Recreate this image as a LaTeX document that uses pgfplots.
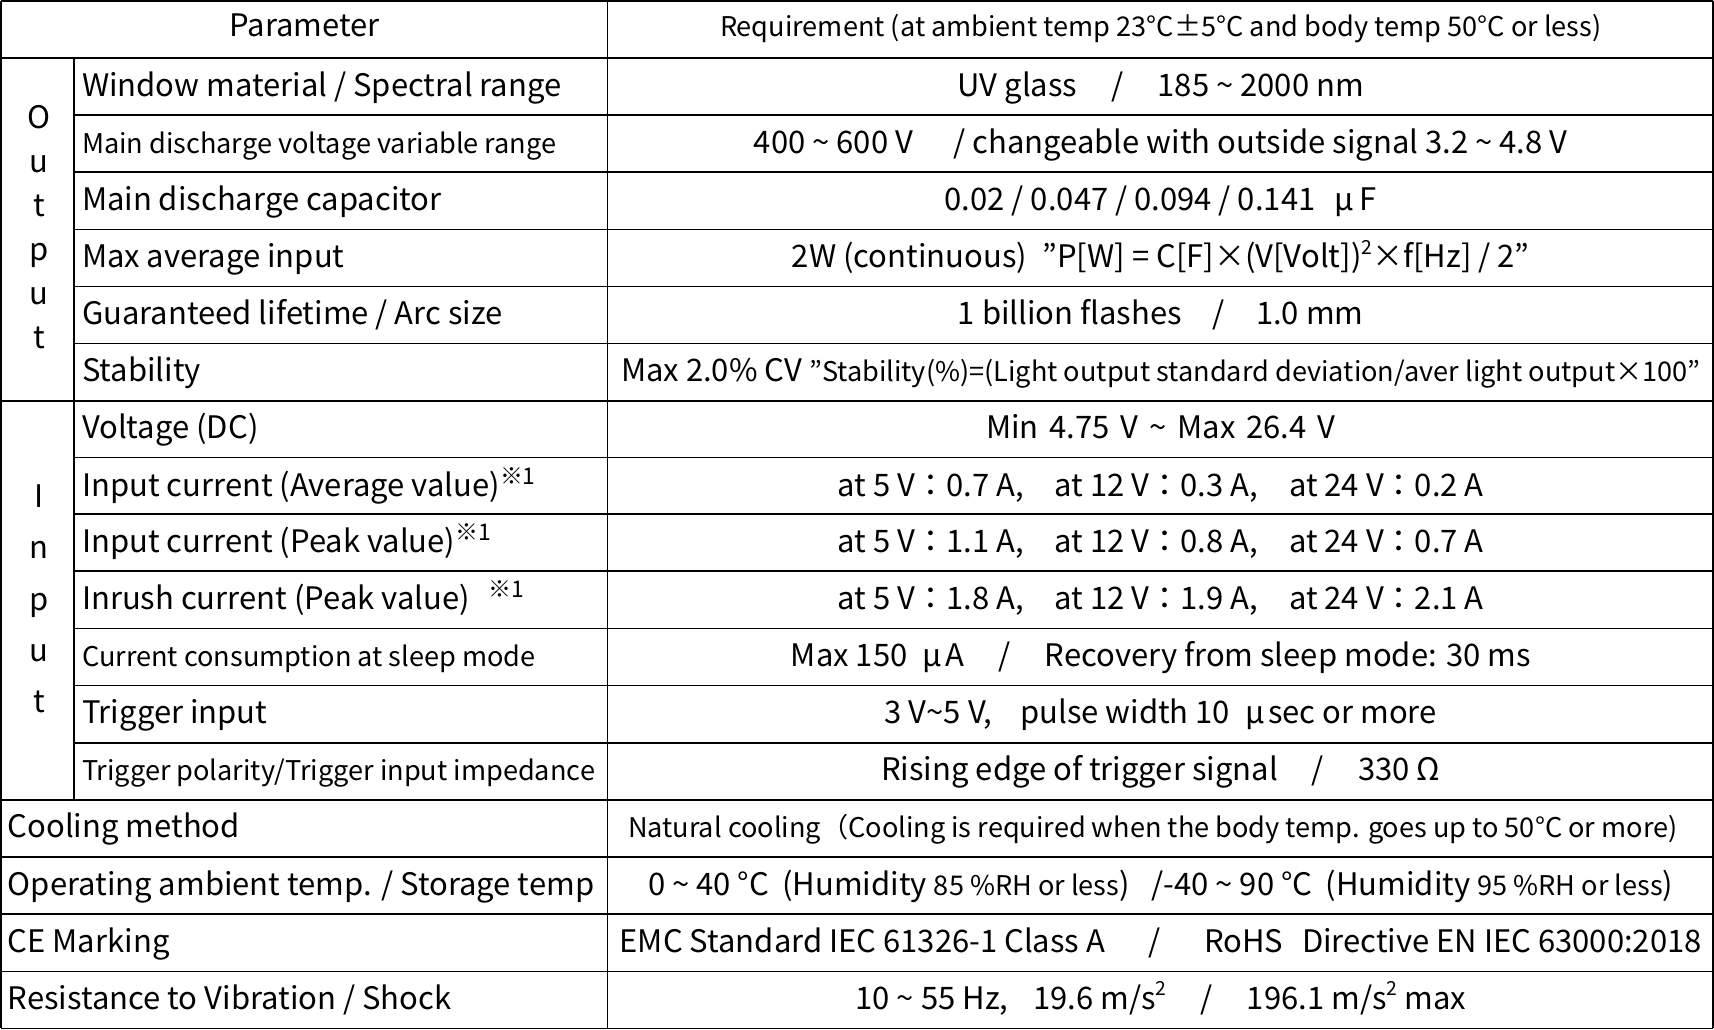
\documentclass[border=0pt]{standalone}
\usepackage{fontspec}
\setmainfont{Noto Sans CJK JP}
\usepackage{pgfplots}
\pgfplotsset{compat=1.18}
\newcommand{\fL}{\fontsize{8.8pt}{10pt}\selectfont}
\newcommand{\fS}{\fontsize{7.7pt}{9pt}\selectfont}
\newcommand{\tl}{\textasciitilde}
\newcommand{\nt}{\raisebox{0.7ex}{\fontsize{6.5pt}{7pt}\selectfont ※1}}
\newcommand{\sq}{\raisebox{0.8ex}{\fontsize{5.5pt}{6pt}\selectfont 2}}

\begin{document}
\begin{tikzpicture}[every node/.append style={inner sep=0pt, outer sep=0pt}]
\begin{axis}[
  width=171.4mm, height=103.1mm, scale only axis,
  xmin=0, xmax=1714, ymin=0, ymax=1031, y dir=reverse,
  hide axis, clip=false, unbounded coords=jump,
]
% table rules
\addplot[black, line width=0.45pt, mark=none] coordinates {
  (3,1)(1711,1) (nan,nan)
  (3,58)(1711,58) (nan,nan)
  (76,115)(1711,115) (nan,nan)
  (76,172)(1711,172) (nan,nan)
  (76,229)(1711,229) (nan,nan)
  (76,286)(1711,286) (nan,nan)
  (76,343)(1711,343) (nan,nan)
  (3,400)(1711,400) (nan,nan)
  (76,456.5)(1711,456.5) (nan,nan)
  (76,513)(1711,513) (nan,nan)
  (76,570)(1711,570) (nan,nan)
  (76,627)(1711,627) (nan,nan)
  (76,684)(1711,684) (nan,nan)
  (76,741)(1711,741) (nan,nan)
  (3,798)(1711,798) (nan,nan)
  (3,855)(1711,855) (nan,nan)
  (3,912)(1711,912) (nan,nan)
  (3,969)(1711,969) (nan,nan)
  (3,1026)(1711,1026) (nan,nan)
  (3,1)(3,1026) (nan,nan)
  (76,58)(76,798) (nan,nan)
  (608,1)(608,1026) (nan,nan)
  (1711,1)(1711,1026)
};

% header
\node[anchor=base] at (axis cs:306,37) {\fL Parameter};
\node[anchor=base] at (axis cs:1160,37) {\fS Requirement (at ambient temp 23°C±5°C and body temp 50°C or less)};

% group labels
\node[anchor=base] at (axis cs:41,128) {\fL O};
\node[anchor=base] at (axis cs:41,172) {\fL u};
\node[anchor=base] at (axis cs:41,216) {\fL t};
\node[anchor=base] at (axis cs:41,260) {\fL p};
\node[anchor=base] at (axis cs:41,304) {\fL u};
\node[anchor=base] at (axis cs:41,348) {\fL t};
\node[anchor=base] at (axis cs:41,506) {\fL I};
\node[anchor=base] at (axis cs:41,557.5) {\fL n};
\node[anchor=base] at (axis cs:41,609) {\fL p};
\node[anchor=base] at (axis cs:41,660) {\fL u};
\node[anchor=base] at (axis cs:41,710.5) {\fL t};

% output rows
\node[anchor=base west] at (axis cs:84,96) {\fL Window material / Spectral range};
\node[anchor=base west] at (axis cs:84,153) {\fS Main discharge voltage variable range};
\node[anchor=base west] at (axis cs:84,210) {\fL Main discharge capacitor};
\node[anchor=base west] at (axis cs:84,267) {\fL Max average input};
\node[anchor=base west] at (axis cs:84,324) {\fL Guaranteed lifetime / Arc size};
\node[anchor=base west] at (axis cs:84,381) {\fL Stability};

\node[anchor=base] at (axis cs:1160,96) {\fL UV glass\hspace{1.1em}/\hspace{1.1em}185 \tl{} 2000 nm};
\node[anchor=base] at (axis cs:1160,153) {\fL 400 \tl{} 600 V\hspace{1.3em}/ changeable with outside signal 3.2 \tl{} 4.8 V};
\node[anchor=base] at (axis cs:1160,210) {\fL 0.02 / 0.047 / 0.094 / 0.141\hspace{0.6em}μ\hspace{0.2em}F};
\node[anchor=base] at (axis cs:1160,267) {\fL 2W (continuous)\hspace{0.5em}”P[W] = C[F]×(V[Volt])\sq×f[Hz] / 2”};
\node[anchor=base] at (axis cs:1160,324) {\fL 1 billion flashes\hspace{1em}/\hspace{1em}1.0 mm};
\node[anchor=base] at (axis cs:1160,381) {\fL Max 2.0\% CV {\fS "Stability(\%)=(Light output standard deviation/aver light output×100"}};

% input rows
\node[anchor=base west] at (axis cs:84,438) {\fL Voltage (DC)};
\node[anchor=base west] at (axis cs:84,495) {\fL Input current (Average value)\nt};
\node[anchor=base west] at (axis cs:84,551) {\fL Input current (Peak value)\nt};
\node[anchor=base west] at (axis cs:84,608) {\fL Inrush current (Peak value)\hspace{0.6em}\nt};
\node[anchor=base west] at (axis cs:84,665) {\fS Current consumption at sleep mode};
\node[anchor=base west] at (axis cs:84,722) {\fL Trigger input};
\node[anchor=base west] at (axis cs:84,779) {\fS Trigger polarity/Trigger input impedance};

\node[anchor=base] at (axis cs:1160,438) {\fL Min\hspace{0.35em}4.75\hspace{0.35em}V\hspace{0.35em}\tl\hspace{0.35em}Max\hspace{0.35em}26.4\hspace{0.35em}V};
\node[anchor=base] at (axis cs:1160,495) {\fL at 5 V：0.7 A,\hspace{1em}at 12 V：0.3 A,\hspace{1em}at 24 V：0.2 A};
\node[anchor=base] at (axis cs:1160,551) {\fL at 5 V：1.1 A,\hspace{1em}at 12 V：0.8 A,\hspace{1em}at 24 V：0.7 A};
\node[anchor=base] at (axis cs:1160,608) {\fL at 5 V：1.8 A,\hspace{1em}at 12 V：1.9 A,\hspace{1em}at 24 V：2.1 A};
\node[anchor=base] at (axis cs:1160,665) {\fL Max 150\hspace{0.5em}μ\hspace{0.1em}A\hspace{1.1em}/\hspace{1.1em}Recovery from sleep mode: 30 ms};
\node[anchor=base] at (axis cs:1160,722) {\fL 3 V\tl5 V,\hspace{0.9em}pulse width 10\hspace{0.5em}μ\hspace{0.1em}sec or more};
\node[anchor=base] at (axis cs:1160,779) {\fL Rising edge of trigger signal\hspace{1.1em}/\hspace{1.1em}330 Ω};

% bottom rows
\node[anchor=base west] at (axis cs:10,836) {\fL Cooling method};
\node[anchor=base west] at (axis cs:10,893) {\fL Operating ambient temp. / Storage temp};
\node[anchor=base west] at (axis cs:10,950) {\fL CE Marking};
\node[anchor=base west] at (axis cs:10,1007) {\fL Resistance to Vibration / Shock};

\node[anchor=base] at (axis cs:1152,836) {\fS Natural cooling（Cooling is required when the body temp. goes up to 50°C or more)};
\node[anchor=base] at (axis cs:1160,893) {\fL 0 \tl{} 40 °C\hspace{0.2em} (Humidity {\fS 85 \%RH or less})\hspace{0.7em}/-40 \tl{} 90 °C\hspace{0.2em} (Humidity {\fS 95 \%RH or less})};
\node[anchor=base] at (axis cs:1160,950) {\fL EMC Standard IEC 61326-1 Class A\hspace{1.4em}/\hspace{1.4em}RoHS\hspace{0.6em}Directive EN IEC 63000:2018};
\node[anchor=base] at (axis cs:1160,1007) {\fL 10 \tl{} 55 Hz,\hspace{0.8em}19.6 m/s\sq\hspace{1.1em}/\hspace{1.1em}196.1 m/s\sq{} max};
\end{axis}
\end{tikzpicture}
\end{document}
